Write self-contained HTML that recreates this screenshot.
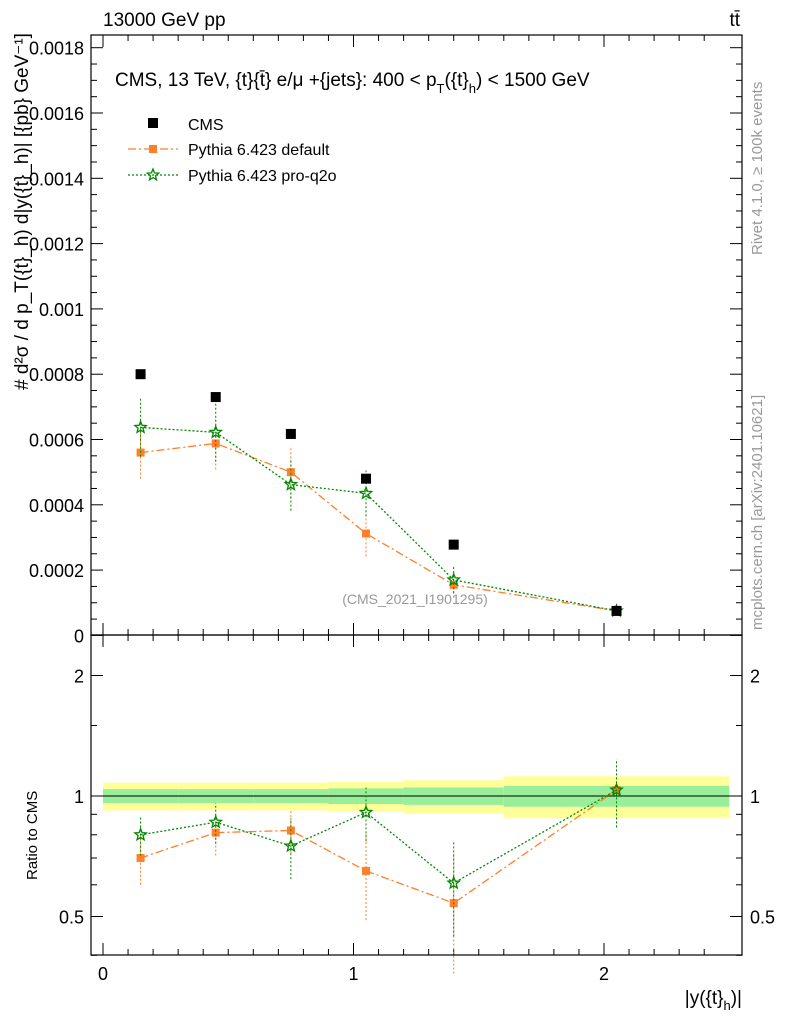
<!DOCTYPE html>
<html><head><meta charset="utf-8"><style>
body{margin:0;background:#fff;}
svg{display:block;font-family:"Liberation Sans",sans-serif;}
</style></head><body>
<svg id="c" width="786" height="1024"></svg>
<script>
const binLo=[0,0.3,0.6,0.9,1.2,1.6];
const binHi=[0.3,0.6,0.9,1.2,1.6,2.5];
const cms=[0.0008,0.00073,0.000617,0.00048,0.000278,0.000075];
const defV=[0.00056,0.000588,0.0005,0.000312,0.000155,0.000075];
const defE=[0.00008,0.00008,0.00008,0.00007,0.00004,0.00001];
const proV=[0.000637,0.000622,0.000462,0.000435,0.00017,0.000075];
const proE=[0.00009,0.00009,0.00008,0.00007,0.00004,0.00001];
const rDef=[0.70,0.81,0.82,0.65,0.54,1.035];
const rDefE=[0.1,0.1,0.1,0.16,0.18,0.2];
const rPro=[0.80,0.86,0.75,0.91,0.606,1.035];
const rProE=[0.09,0.1,0.13,0.14,0.16,0.2];
const bandY=[0.08,0.08,0.08,0.085,0.095,0.12];
const bandG=[0.04,0.04,0.04,0.045,0.05,0.06];
const yTicks=[0,0.0002,0.0004,0.0006,0.0008,0.001,0.0012,0.0014,0.0016,0.0018];
const yLabels=["0","0.0002","0.0004","0.0006","0.0008","0.001","0.0012","0.0014","0.0016","0.0018"];
const xTicks=[0,1,2];

const L=91,R=742,T=35,M=635,B=955;
const X=v=>103+v*250.5;
const Y=v=>635.4-v/0.0002*65.3;
const RY=r=>796-120.5*Math.log2(r);
const s=document.getElementById('c');
const NS="http://www.w3.org/2000/svg";
function el(t,a,p){const e=document.createElementNS(NS,t);for(const k in a)e.setAttribute(k,a[k]);(p||s).appendChild(e);return e;}
function tx(x,y,str,a,p){const e=el('text',Object.assign({x:x,y:y,'font-size':18},a||{}),p);e.textContent=str;return e;}

const gb=el('g',{});
for(let i=0;i<binLo.length;i++){
 el('rect',{x:X(binLo[i]),y:RY(1+bandY[i]),width:X(binHi[i])-X(binLo[i]),height:RY(1-bandY[i])-RY(1+bandY[i]),fill:'#ffff99'},gb);
 el('rect',{x:X(binLo[i]),y:RY(1+bandG[i]),width:X(binHi[i])-X(binLo[i]),height:RY(1-bandG[i])-RY(1+bandG[i]),fill:'#99ee99'},gb);
}
el('line',{x1:L,x2:R,y1:RY(1),y2:RY(1),stroke:'#000','stroke-width':1});

const f1=el('rect',{x:L,y:T,width:R-L,height:M-T,fill:'none',stroke:'#000','stroke-width':1.2});

const f2=el('rect',{x:L,y:M,width:R-L,height:B-M,fill:'none',stroke:'#000','stroke-width':1.2});


yTicks.forEach((v,i)=>{
 const y=Y(v);
 el('line',{x1:L,x2:L+12,y1:y,y2:y,stroke:'#000'});el('line',{x1:R,x2:R-12,y1:y,y2:y,stroke:'#000'});
 if(i<yTicks.length-1)for(let k=1;k<4;k++){const yy=Y(v+k*0.00005);el('line',{x1:L,x2:L+6,y1:yy,y2:yy,stroke:'#000'});el('line',{x1:R,x2:R-6,y1:yy,y2:yy,stroke:'#000'});}
 const t=tx(84,y+7,yLabels[i],{'text-anchor':'end'});
 
});
[0.5,1,2].forEach(r=>{const y=RY(r);el('line',{x1:L,x2:L+12,y1:y,y2:y,stroke:'#000'});el('line',{x1:R,x2:R-12,y1:y,y2:y,stroke:'#000'});
 tx(84,y+7,String(r),{'text-anchor':'end'});tx(750,y+7,String(r));});
[0.4,0.6,0.7,0.8,0.9,1.5].forEach(r=>{const y=RY(r);el('line',{x1:L,x2:L+6,y1:y,y2:y,stroke:'#000'});el('line',{x1:R,x2:R-6,y1:y,y2:y,stroke:'#000'});});
for(let v=0;v<=2.5;v+=0.1){const x=X(v);const big=Math.abs(v-Math.round(v))<1e-6;const h=big?12:6;
 [[T,T+h],[M,M-h],[M,M+h],[B,B-h]].forEach(p=>el('line',{x1:x,x2:x,y1:p[0],y2:p[1],stroke:'#000'}));}
xTicks.forEach(v=>{const t=tx(X(v),980,String(v),{'text-anchor':'middle'});});

function series(vals,errs,color,dash,marker,name,ymap){
 const g=el('g',{});
 const pts=vals.map((v,i)=>X((binLo[i]+binHi[i])/2)+','+ymap(v)).join(' ');
 el('polyline',{points:pts,fill:'none',stroke:color,'stroke-width':1.3,'stroke-dasharray':dash},g);
 vals.forEach((v,i)=>{const x=X((binLo[i]+binHi[i])/2);
  el('line',{x1:x,x2:x,y1:ymap(v-errs[i]),y2:ymap(v+errs[i]),stroke:color,'stroke-dasharray':'2,2'},g);
  marker(x,ymap(v),g);});
}
const sq=c=>(x,y,g)=>el('rect',{x:x-4,y:y-4,width:8,height:8,fill:c},g);
const star=(x,y,g)=>{let p=[];for(let k=0;k<10;k++){const r=k%2?2.6:6,a=-Math.PI/2+k*Math.PI/5;p.push((x+r*Math.cos(a))+','+(y+r*Math.sin(a)));}el('polygon',{points:p.join(' '),fill:'none',stroke:'#008800','stroke-width':1.3},g);};
series(defV,defE,'#ff7f2a','8,3,2,3',sq('#ff7f2a'),'pythia-default-series',Y);
series(proV,proE,'#008800','2,2',star,'pythia-proq2o-series',Y);
const gc=el('g',{});
cms.forEach((v,i)=>{const x=X((binLo[i]+binHi[i])/2);el('rect',{x:x-5,y:Y(v)-5,width:10,height:10,fill:'#000'},gc);});
series(rDef,rDefE,'#ff7f2a','8,3,2,3',sq('#ff7f2a'),'ratio-default-series',RY);
series(rPro,rProE,'#008800','2,2',star,'ratio-proq2o-series',RY);

const lg=el('g',{});
el('rect',{x:148,y:118,width:10,height:10,fill:'#000'},lg);tx(188,130,'CMS',{'font-size':16},lg);
el('line',{x1:128,x2:178,y1:149,y2:149,stroke:'#ff7f2a','stroke-dasharray':'8,3,2,3','stroke-width':1.3},lg);sq('#ff7f2a')(153,149,lg);
tx(188,155,'Pythia 6.423 default',{'font-size':16},lg);
el('line',{x1:128,x2:178,y1:175,y2:175,stroke:'#008800','stroke-dasharray':'2,2','stroke-width':1.3},lg);star(153,175,lg);
tx(188,181,'Pythia 6.423 pro-q2o',{'font-size':16},lg);

tx(103,26,'13000 GeV pp',{'font-size':19});
tx(740,26,'tt̄',{'font-size':19,'text-anchor':'end'});
const tt=el('text',{x:115,y:86,'font-size':19});
tt.innerHTML='CMS, 13 TeV, {t}{t̄} e/μ +{jets}: 400 &lt;  p<tspan font-size="13" dy="7">T</tspan><tspan dy="-7">({t}</tspan><tspan font-size="13" dy="7">h</tspan><tspan dy="-7">) &lt; 1500 GeV</tspan>';

tx(415,604,'(CMS_2021_I1901295)',{'font-size':14,fill:'#999','text-anchor':'middle'});
const yl=tx(0,0,'#  d²σ / d p_T({t}_h) d|y({t}_h)| [{pb} GeV⁻¹]',{'font-size':19,transform:'translate(28,390) rotate(-90)'});

tx(0,0,'Ratio to CMS',{'font-size':15,transform:'translate(37,880) rotate(-90)'});
const xl=el('text',{x:742,y:1004,'font-size':19,'text-anchor':'end'});
xl.innerHTML='|y({t}<tspan font-size="13" dy="6">h</tspan><tspan dy="-6">)|</tspan>';

tx(0,0,'Rivet 4.1.0, ≥ 100k events',{'font-size':15,fill:'#999',transform:'translate(762,255) rotate(-90)'});
tx(0,0,'mcplots.cern.ch [arXiv:2401.10621]',{'font-size':15,fill:'#999',transform:'translate(762,630) rotate(-90)'});
</script>
</body></html>
